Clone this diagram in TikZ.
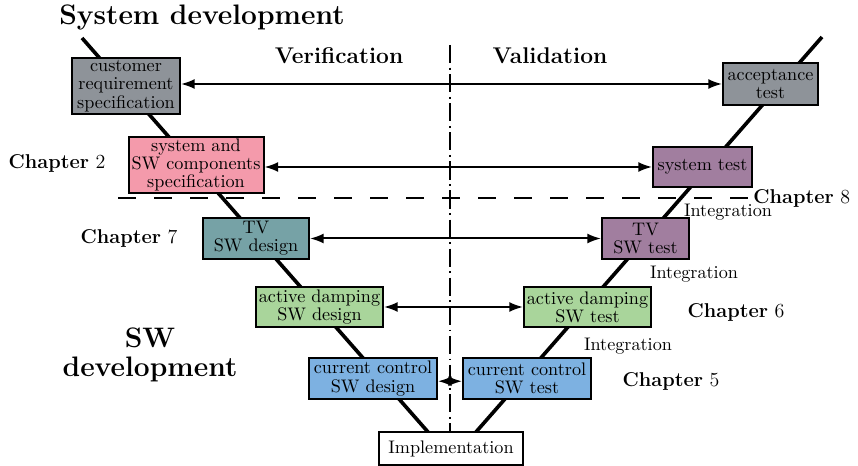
\documentclass[tikz,border=0pt]{standalone}
\usetikzlibrary{arrows.meta}
\definecolor{cgray}{HTML}{8E9399}
\definecolor{cpink}{HTML}{F49AAB}
\definecolor{cteal}{HTML}{76A2A6}
\definecolor{cgreen}{HTML}{A9D59B}
\definecolor{cblue}{HTML}{7DB1E1}
\definecolor{cpurple}{HTML}{A17E9F}
\begin{document}
\begin{tikzpicture}[x=0.55pt,y=-0.55pt,
  box/.style={draw=black,line width=1.1pt,inner sep=0pt,align=center,font=\fontsize{10}{10}\selectfont},
  vline/.style={line width=2pt},
  harrow/.style={line width=1.1pt,{Latex[length=7.5pt,width=5.5pt]}-{Latex[length=7.5pt,width=5.5pt]}},
  chap/.style={font=\fontsize{11}{13}\selectfont,inner sep=0pt},
  integ/.style={font=\fontsize{10}{12}\selectfont,inner sep=0pt},
  big/.style={font=\fontsize{15.5}{16}\selectfont\bfseries,align=center,inner sep=0pt},
  head/.style={font=\fontsize{12.5}{15}\selectfont\bfseries,inner sep=0pt}]
\useasboundingbox (0,0) rectangle (858,466);

% V lines and centre line
\coordinate (tl) at (82,38);
\coordinate (tr) at (822,37);
\coordinate (il) at (428,432);
\coordinate (ir) at (476,432);
\coordinate (dtop) at (450,45);
\coordinate (dbot) at (450,432);
\draw[vline] (tl) -- (il);
\draw[vline] (tr) -- (ir);
\draw[line width=1pt,dash pattern=on 10pt off 2.5pt on 1pt off 2.5pt] (dtop) -- (dbot);

% boxes
\node[box,fill=cgray,minimum width=108*0.55pt,minimum height=56*0.55pt] (b1) at (126,86) {customer\\requirement\\specification};
\node[box,fill=cpink,minimum width=135*0.55pt,minimum height=56*0.55pt] (b2) at (196,165) {system and\\SW components\\specification};
\node[box,fill=cteal,minimum width=106*0.55pt,minimum height=41*0.55pt] (b3) at (256,238.5) {TV\\SW design};
\node[box,fill=cgreen,minimum width=127*0.55pt,minimum height=40*0.55pt] (b4) at (319.5,307) {active damping\\SW design};
\node[box,fill=cblue,minimum width=128*0.55pt,minimum height=41*0.55pt] (b5) at (373,378.5) {current control\\SW design};
\node[box,fill=white,minimum width=144*0.55pt,minimum height=33*0.55pt] (b6) at (451,448.5) {Implementation};
\node[box,fill=cblue,minimum width=128*0.55pt,minimum height=41*0.55pt] (b7) at (527,378.5) {current control\\SW test};
\node[box,fill=cgreen,minimum width=127*0.55pt,minimum height=40*0.55pt] (b8) at (587.5,307) {active damping\\SW test};
\node[box,fill=cpurple,minimum width=87*0.55pt,minimum height=41*0.55pt] (b9) at (645.5,238.5) {TV\\SW test};
\node[box,fill=cpurple,minimum width=99*0.55pt,minimum height=40*0.55pt] (b10) at (702.5,167) {system test};
\node[box,fill=cgray,minimum width=95*0.55pt,minimum height=42*0.55pt] (b11) at (770.5,84) {acceptance\\test};

% arrows
\draw[harrow] (b1.east |- b11.west) -- (b11.west);
\draw[harrow] (b2.east |- b10.west) -- (b10.west);
\draw[harrow] (b3.east) -- (b9.west);
\draw[harrow] (b4.east) -- (b8.west);
\draw[harrow] ([yshift=-1.5pt]b5.east) -- ([yshift=-1.5pt]b7.west);

% dashed separator
\coordinate (dl) at (118,198);
\coordinate (dr) at (752,198);
\draw[line width=1.1pt,dash pattern=on 9.9pt off 9.9pt] (dl) -- (dr);

% labels
\node[big] (title) at (202,17) {System development};
\node[big] (swdev) at (150,355) {SW\\development};
\node[head] (verif) at (339,56) {Verification};
\node[head] (valid) at (550,56) {Validation};
\node[chap] (c2) at (57,163) {\textbf{Chapter} 2};
\node[chap] (c7) at (129,238) {\textbf{Chapter} 7};
\node[chap] (c6) at (736,312) {\textbf{Chapter} 6};
\node[chap] (c5) at (671,381) {\textbf{Chapter} 5};
\node[chap,anchor=west] (c8) at (753,198) {\textbf{Chapter} 8};
\node[integ] (i1) at (728,212) {Integration};
\node[integ] (i2) at (694,274) {Integration};
\node[integ] (i3) at (628,346) {Integration};
\end{tikzpicture}
\end{document}
